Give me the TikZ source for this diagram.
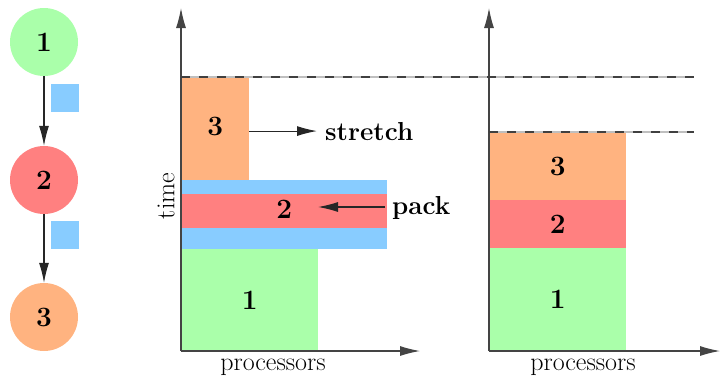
\documentclass[tikz,border=0pt]{standalone}
\usetikzlibrary{arrows.meta}
\definecolor{cgreen}{HTML}{AAFFAA}
\definecolor{cred}{HTML}{FF8080}
\definecolor{corange}{HTML}{FFB380}
\definecolor{cblue}{HTML}{88CCFF}
\definecolor{axisgray}{HTML}{444444}
\tikzset{
  bigb/.style={font=\fontsize{28}{32}\selectfont\bfseries, inner sep=0pt},
  word/.style={font=\fontsize{26}{30}\selectfont, inner sep=0pt},
  boldword/.style={font=\fontsize{26}{30}\selectfont\bfseries, inner sep=0pt},
  task/.style={circle, minimum size=68pt, inner sep=0pt, font=\fontsize{28}{32}\selectfont\bfseries},
  blk/.style={rectangle, draw=none, inner sep=0pt, anchor=north west},
  axisline/.style={draw=axisgray, line width=1.1pt, -{Latex[length=20pt,width=10pt]}},
  conn/.style={draw=black!85, line width=1.1pt, -{Latex[length=20pt,width=10pt]}},
  dashbase/.style={draw=black!25, line width=1.3pt},
  dashtop/.style={draw=black!75, line width=1.3pt, dash pattern=on 9pt off 9pt}
}
\begin{document}
\begin{tikzpicture}[x=1pt,y=-1pt]
\useasboundingbox (0,0) rectangle (721,378);
% task graph
\node[task, fill=cgreen] (c1) at (44,42) {1};
\node[task, fill=cred] (c2) at (44,180) {2};
\node[task, fill=corange] (c3) at (44,317) {3};
\draw[conn] (c1) -- (c2);
\draw[conn] (c2) -- (c3);
\node[blk, fill=cblue, minimum width=28pt, minimum height=28pt] (m1) at (51,84) {};
\node[blk, fill=cblue, minimum width=28pt, minimum height=28pt] (m2) at (51,221) {};
% middle chart blocks
\node[blk, fill=cgreen, minimum width=137pt, minimum height=102pt] (g1) at (181,249) {};
\node[blk, fill=cblue, minimum width=206pt, minimum height=69pt] (bl) at (181,180) {};
\node[blk, fill=cred, minimum width=206pt, minimum height=34pt] (r1) at (181,194) {};
\node[blk, fill=corange, minimum width=68pt, minimum height=103pt] (o1) at (181,77) {};
\node[bigb] (l1) at (g1.center) {1};
\node[bigb] (l2) at ([yshift=2pt]r1.center) {2};
\node[bigb] (l3) at ([yshift=2pt]o1.center) {3};
% right chart blocks
\node[blk, fill=cgreen, minimum width=137pt, minimum height=103pt] (g2) at (489,248) {};
\node[blk, fill=cred, minimum width=137pt, minimum height=48pt] (r2) at (489,200) {};
\node[blk, fill=corange, minimum width=137pt, minimum height=68pt] (o2) at (489,132) {};
\node[bigb] (k1) at (g2.center) {1};
\node[bigb] (k2) at (r2.center) {2};
\node[bigb] (k3) at (o2.center) {3};
% axes
\coordinate (ao1) at (181,351);
\coordinate (ay1) at (181,8);
\coordinate (ax1) at (420,351);
\coordinate (ao2) at (489,351);
\coordinate (ay2) at (489,8);
\coordinate (ax2) at (720,351);
\draw[axisline] (ao1) -- (ay1);
\draw[axisline] (ao1) -- (ax1);
\draw[axisline] (ao2) -- (ay2);
\draw[axisline] (ao2) -- (ax2);
% dashed lines
\coordinate (d1a) at (181,77);
\coordinate (d1b) at (694,77);
\coordinate (d2a) at (489,132);
\coordinate (d2b) at (694,132);
\draw[dashbase] (d1a) -- (d1b);
\draw[dashtop] (d1a) -- (d1b);
\draw[dashbase] (d2a) -- (d2b);
\draw[dashtop] (d2a) -- (d2b);
% labels
\node[word, rotate=90] (time) at (166,196) {time};
\node[word, anchor=base] (p1) at (273,370) {processors};
\node[word, anchor=base] (p2) at (583,370) {processors};
\node[boldword, anchor=base west] (st) at (325,140) {stretch};
\node[boldword, anchor=base west] (pk) at (392,214) {pack};
\coordinate (pkend) at (318,207);
\draw[conn] (o1.east |- st.west) -- ([xshift=-8pt]st.west);
\draw[conn] (pk.west |- pkend) ++(-7pt,0) -- (pkend);
\end{tikzpicture}
\end{document}
